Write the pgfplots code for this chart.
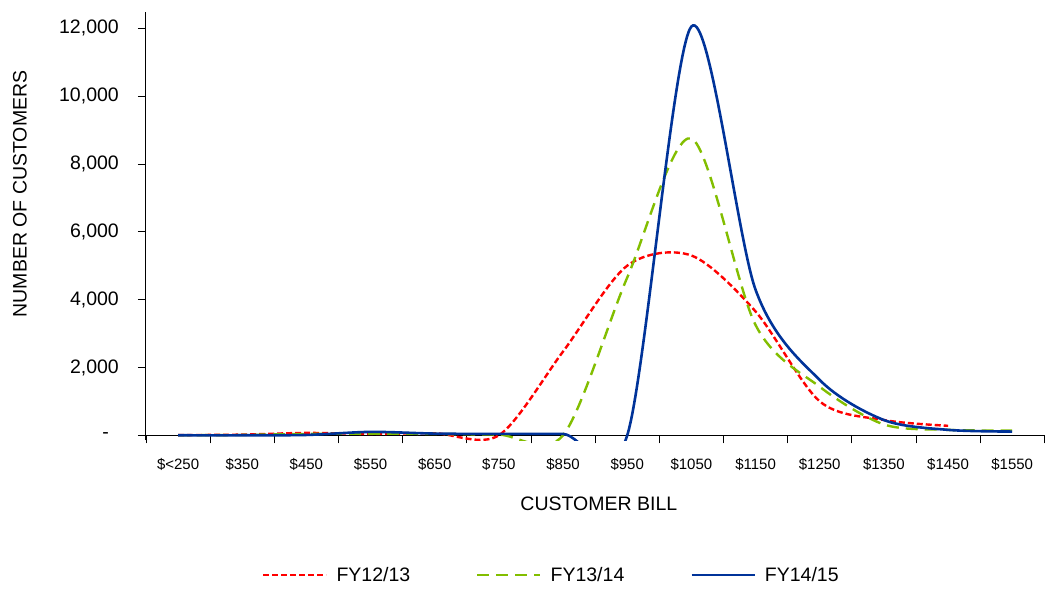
\documentclass[border=0pt]{standalone}
\usepackage{pgfplots}
\pgfplotsset{compat=1.18}
\usepackage{fontspec}
\setmainfont{Liberation Sans}
\definecolor{fyred}{RGB}{255,0,0}
\definecolor{fygreen}{RGB}{130,190,0}
\definecolor{fyblue}{RGB}{0,51,153}
\newcommand{\bigf}{\fontsize{19.5}{23}\selectfont}
\newcommand{\smallf}{\fontsize{15}{18}\selectfont}
\begin{document}
\begin{tikzpicture}
\path[use as bounding box] (-146pt,-150pt) rectangle (899pt,440pt);
\begin{axis}[
  at={(0pt,0pt)}, anchor=south west,
  scale only axis, width=898.3pt, height=428.3pt,
  xmin=200, xmax=1600, ymin=-139, ymax=12487,
  scaled x ticks=false, scaled y ticks=false,
  axis x line=middle, axis y line=left,
  axis line style={-, black, line width=1pt},
  hide obscured x ticks=false, hide obscured y ticks=false,
  xtick={200,300,...,1600},
  x tick label as interval,
  xticklabels={\$<250,\$350,\$450,\$550,\$650,\$750,\$850,\$950,\$1050,\$1150,\$1250,\$1350,\$1450,\$1550},
  ytick={0,2000,4000,6000,8000,10000,12000},
  yticklabels={-\kern10pt,{2,000},{4,000},{6,000},{8,000},{10,000},{12,000}},
  tick align=outside,
  major tick length=8pt,
  tick style={black, line width=0.8pt},
  xticklabel style={font=\smallf, anchor=base, inner sep=0pt, yshift=-26.7pt},
  yticklabel style={font=\bigf, anchor=east, inner sep=0pt, xshift=-19pt},
  xlabel={CUSTOMER BILL},
  ylabel={NUMBER OF CUSTOMERS},
  xlabel style={font=\bigf, at={(axis description cs:0.5041,-0.1494)}, anchor=center},
  ylabel style={font=\bigf, at={(axis description cs:-0.1403,0.5744)}, anchor=center, rotate=0},
  legend columns=3,
  legend style={at={(axis description cs:0.4513,-0.3152)}, anchor=center, draw=none, fill=none,
    font=\bigf, /tikz/every even column/.append style={column sep=64pt}},
  legend cell align=left,
  legend image code/.code={\draw[#1] (0pt,0pt) -- (63pt,0pt); \path (70pt,0pt);},
]
\addplot[fyred, line width=2.4pt, dash pattern=on 6pt off 3pt, smooth, tension=0.5] coordinates {
(250,5) (350,20) (450,70) (550,40) (650,60) (750,0) (850,2470) (950,5000) (1050,5300) (1150,3650) (1250,1000) (1350,450) (1450,280)
};
\addplot[fygreen, line width=2.4pt, dash pattern=on 12pt off 7pt, smooth, tension=0.5] coordinates {
(250,0) (350,10) (450,40) (550,50) (650,40) (750,20) (850,0) (950,4650) (1050,8750) (1150,3250) (1250,1430) (1350,320) (1450,160) (1550,140)
};
\addplot[fyblue, line width=2.6pt, smooth, tension=0.5] coordinates {
(250,0) (350,0) (450,10) (550,100) (650,50) (750,40) (850,40) (950,0) (1050,12050) (1150,4290) (1250,1630) (1350,450) (1450,160) (1550,110)
};
\legend{FY12/13, FY13/14, FY14/15}
\end{axis}
\end{tikzpicture}
\end{document}
